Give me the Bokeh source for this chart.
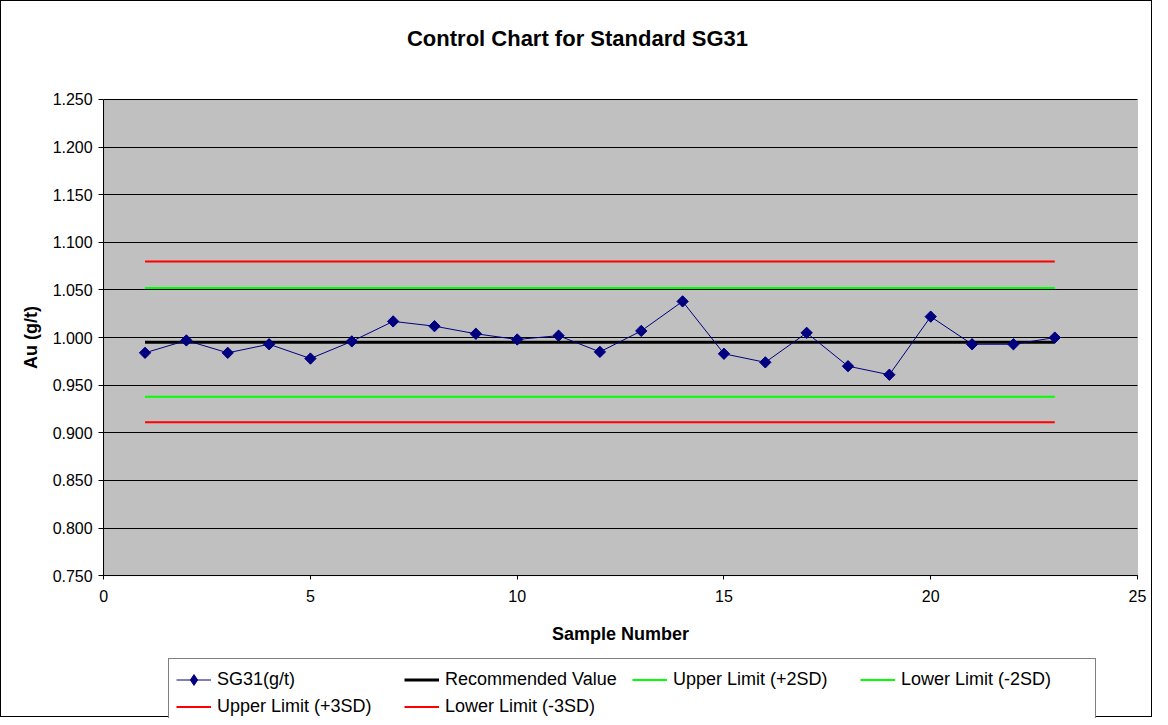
import numpy as np
from bokeh.plotting import figure
from bokeh.models import (Range1d, FixedTicker, SingleIntervalTicker, PrintfTickFormatter,
                          Legend, BoxAnnotation)
from bokeh.embed import file_html
from bokeh.resources import INLINE

# ---- data ----
samples = list(range(1, 24))
sg31 = [0.984, 0.997, 0.984, 0.993, 0.978, 0.996, 1.017, 1.012, 1.004, 0.998, 1.002,
        0.985, 1.007, 1.038, 0.983, 0.974, 1.005, 0.970, 0.961, 1.022, 0.993, 0.993, 1.000]
recommended_value = 0.995
upper_2sd = 1.052
lower_2sd = 0.938
upper_3sd = 1.080
lower_3sd = 0.911
y_ticks = [0.75, 0.80, 0.85, 0.90, 0.95, 1.00, 1.05, 1.10, 1.15, 1.20, 1.25]
x_ticks_interval = 5
x_min, x_max = 0, 25
y_min, y_max = 0.75, 1.25

FONT = "Liberation Sans"

# plot area geometry (pixels)
PX_PER_Y = 954.0
PX_PER_X = 41.28
EXTRA_TOP = 27      # frame top -> 1.250 gridline
EXTRA_BOTTOM = 143  # x axis -> bottom (axis labels + legend)
EXTRA_LEFT = 102    # left edge -> y axis (tick labels + axis label)
EXTRA_RIGHT = 16    # right end of grey area -> right edge

p = figure(width=1152, height=717, output_backend="svg", toolbar_location=None,
           x_range=Range1d(x_min - EXTRA_LEFT / PX_PER_X, x_max + EXTRA_RIGHT / PX_PER_X),
           y_range=Range1d(y_min - EXTRA_BOTTOM / PX_PER_Y, y_max + EXTRA_TOP / PX_PER_Y),
           min_border_left=0, min_border_right=0, min_border_top=0, min_border_bottom=0)
p.styles = {"border": "1px solid black", "box-sizing": "border-box"}

p.title.text = "Control Chart for Standard SG31"
p.title.align = "center"
p.title.text_font = FONT
p.title.text_font_size = "22px"
p.title.text_font_style = "bold"
p.title.text_color = "black"
p.title.standoff = 44

p.background_fill_color = "white"
p.border_fill_color = "white"
p.outline_line_color = None

# grey plotting area
p.add_layout(BoxAnnotation(left=x_min, right=x_max, bottom=y_min, top=y_max,
                           fill_color="#C0C0C0", fill_alpha=1.0,
                           line_color="#808080", line_width=1, level="image"))

p.xgrid.visible = False
p.ygrid.ticker = FixedTicker(ticks=y_ticks)
p.ygrid.cross_bounds = (x_min, x_max)
p.ygrid.grid_line_color = "black"
p.ygrid.grid_line_width = 1
p.ygrid.grid_line_alpha = 1.0

p.yaxis.ticker = FixedTicker(ticks=y_ticks)
p.yaxis.bounds = (y_min, y_max)
p.yaxis.fixed_location = x_min
p.xaxis.ticker = SingleIntervalTicker(interval=x_ticks_interval, num_minor_ticks=0)
p.xaxis.bounds = (x_min, x_max)
p.xaxis.fixed_location = y_min
p.yaxis.formatter = PrintfTickFormatter(format="%.3f")

for ax in (p.xaxis, p.yaxis):
    ax.axis_line_color = "black"
    ax.major_tick_line_color = "black"
    ax.minor_tick_line_color = None
    ax.major_tick_in = 0
    ax.major_label_text_font = FONT
    ax.major_label_text_font_size = "16px"
    ax.major_label_text_color = "black"
    ax.axis_label_text_font = FONT
    ax.axis_label_text_font_size = "18px"
    ax.axis_label_text_font_style = "bold"
    ax.axis_label_text_color = "black"

p.yaxis.major_tick_out = 5
p.yaxis.major_label_standoff = 6
p.yaxis.axis_label = "Au (g/t)"
p.yaxis.axis_label_standoff = 8
p.xaxis.major_tick_out = 4
p.xaxis.major_label_standoff = 10
p.xaxis.axis_label = "Sample Number"
p.xaxis.axis_label_standoff = 19

n = len(samples)
r_rec = p.line(samples, [recommended_value] * n, line_color="black", line_width=3)
r_u2 = p.line(samples, [upper_2sd] * n, line_color="#00FF00", line_width=2)
r_l2 = p.line(samples, [lower_2sd] * n, line_color="#00FF00", line_width=2)
r_u3 = p.line(samples, [upper_3sd] * n, line_color="#FF0000", line_width=2)
r_l3 = p.line(samples, [lower_3sd] * n, line_color="#FF0000", line_width=2)
r_sl = p.line(samples, sg31, line_color="#000080", line_width=1)
# diamond swatch for the legend (hidden under the rotated squares in the plot)
r_leg = p.scatter(samples, sg31, marker="diamond", size=10,
                  fill_color="#000080", line_color="#000080")
r_sm = p.scatter(samples, sg31, marker="square", angle=np.pi / 4, size=8,
                 fill_color="#000080", line_color="#000080")

legend = Legend(items=[
    ("SG31(g/t)", [r_sl, r_leg]),
    ("Recommended Value", [r_rec]),
    ("Upper Limit (+2SD)", [r_u2]),
    ("Lower Limit (-2SD)", [r_l2]),
    ("Upper Limit (+3SD)", [r_u3]),
    ("Lower Limit (-3SD)", [r_l3]),
], orientation="horizontal", ncols=4, location=(167, -10))
legend.label_text_font = FONT
legend.label_text_font_size = "18px"
legend.label_text_color = "black"
legend.glyph_width = 35
legend.glyph_height = 27
legend.label_height = 21
legend.label_width = 187
legend.label_standoff = 6
legend.spacing = 0
legend.padding = 7
legend.margin = 0
legend.border_line_color = "black"
legend.border_line_width = 1
legend.background_fill_color = "white"
legend.background_fill_alpha = 1.0
p.add_layout(legend, "center")

open("out.html", "w").write(file_html(p, INLINE))
